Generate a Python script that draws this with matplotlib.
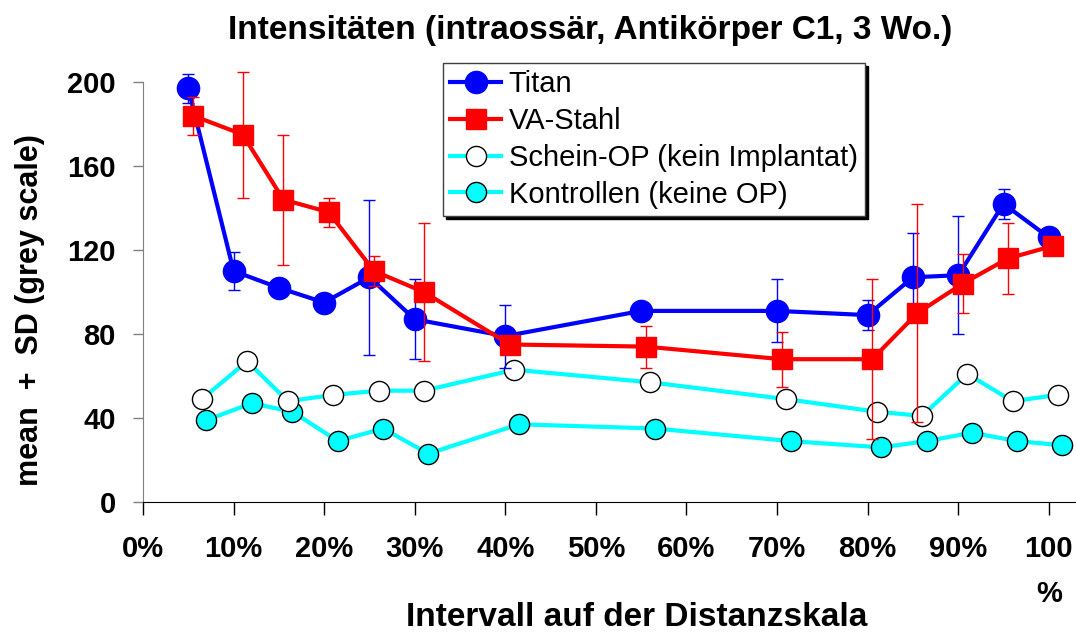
import matplotlib
matplotlib.use('Agg')
import matplotlib.pyplot as plt
from matplotlib import font_manager
from matplotlib.lines import Line2D

# fonts: narrow variant for the tick labels when it exists
names = {f.name for f in font_manager.fontManager.ttflist}
NARROW = 'Liberation Sans Narrow' if 'Liberation Sans Narrow' in names else 'Liberation Sans'
plt.rcParams.update({'font.family': ['Liberation Sans', 'DejaVu Sans']})

BLUE = "#0000FF"; RED = "#FF0000"; CYAN = "#00FFFF"

# interval position (%) and mean grey value per group
titan_x = [5, 10, 15, 20, 25, 30, 40, 55, 70, 80, 85, 90, 95, 100]
titan_y = [197, 110, 102, 95, 107, 87, 79, 91, 91, 89, 107, 108, 142, 126]
titan_sd = [7, 9, 4, 4, 37, 19, 15, 3, 15, 7, 21, 28, 7, 3]

stahl_x = [5.5, 11, 15.5, 20.5, 25.5, 31, 40.5, 55.5, 70.5, 80.5, 85.5, 90.5, 95.5, 100.5]
stahl_y = [184, 175, 144, 138, 110, 100, 75, 74, 68, 68, 90, 104, 116, 122]
stahl_sd = [9, 30, 31, 7, 7, 33, 3, 10, 13, 38, 52, 14, 17, 3]

schein_x = [6.5, 11.5, 16, 21, 26, 31, 41, 56, 71, 81, 86, 91, 96, 101]
schein_y = [49, 67, 48, 51, 53, 53, 63, 57, 49, 43, 41, 61, 48, 51]

kontr_x = [7, 12, 16.5, 21.5, 26.5, 31.5, 41.5, 56.5, 71.5, 81.5, 86.5, 91.5, 96.5, 101.5]
kontr_y = [39, 47, 43, 29, 35, 23, 37, 35, 29, 26, 29, 33, 29, 27]

xticks = [0, 10, 20, 30, 40, 50, 60, 70, 80, 90, 100]
xticklabels = ['0%', '10%', '20%', '30%', '40%', '50%', '60%', '70%', '80%', '90%', '100\n%']
yticks = [0, 40, 80, 120, 160, 200]

fig = plt.figure(figsize=(10.76, 6.33), dpi=100)
ax = fig.add_axes([143/1076, 1-502/633, 1-143/1076, (502-82)/633])

kw = dict(clip_on=False)
ax.plot(kontr_x, kontr_y, '-o', color=CYAN, lw=3, ms=14.5, mfc=CYAN, mec='black', mew=1, zorder=2, **kw)
ax.plot(schein_x, schein_y, '-o', color=CYAN, lw=3, ms=14.5, mfc='white', mec='black', mew=1, zorder=2, **kw)
ax.errorbar(titan_x, titan_y, yerr=titan_sd, fmt='none', ecolor=BLUE, elinewidth=1,
            capsize=4.5, capthick=1, zorder=3, **kw)
ax.plot(titan_x, titan_y, '-o', color=BLUE, lw=3, ms=16, zorder=3, **kw)
ax.errorbar(stahl_x, stahl_y, yerr=stahl_sd, fmt='none', ecolor=RED, elinewidth=1,
            capsize=4.5, capthick=1, zorder=4, **kw)
ax.plot(stahl_x, stahl_y, '-s', color=RED, lw=3, ms=15, zorder=4, **kw)

ax.set_xlim(0, 103)
ax.set_ylim(0, 200)
ax.set_xticks(xticks)
ax.set_xticklabels(xticklabels, fontsize=21, fontweight='bold', family=[NARROW, 'Liberation Sans'],
                   linespacing=1.75, va='top')
ax.set_yticks(yticks)
ax.set_yticklabels([str(v) for v in yticks], fontsize=21, fontweight='bold')
ax.tick_params(axis='x', direction='out', length=9, width=1, pad=15, color='black')
ax.tick_params(axis='y', direction='out', length=7.5, width=1, pad=12, color='#808080')
for s in ('top', 'right'):
    ax.spines[s].set_visible(False)
ax.spines['left'].set_color('#808080')
ax.spines['bottom'].set_color('black')

fig.text(590/1076, 1-31/633, 'Intensitäten (intraossär, Antikörper C1, 3 Wo.)',
         ha='center', va='center', fontsize=24, fontweight='bold')
fig.text(637/1076, 1-618/633, 'Intervall auf der Distanzskala',
         ha='center', va='center', fontsize=24, fontweight='bold')
fig.text(30/1076, 1-310/633, 'mean  +  SD (grey scale)', rotation=90,
         ha='center', va='center', fontsize=22, fontweight='bold')

handles = [
    Line2D([], [], color=BLUE, lw=3, marker='o', ms=16),
    Line2D([], [], color=RED, lw=3, marker='s', ms=15),
    Line2D([], [], color=CYAN, lw=3, marker='o', ms=14.5, mfc='white', mec='black', mew=1),
    Line2D([], [], color=CYAN, lw=3, marker='o', ms=14.5, mfc=CYAN, mec='black', mew=1),
]
labels = ['Titan', 'VA-Stahl', 'Schein-OP (kein Implantat)', 'Kontrollen (keine OP)']
leg = fig.legend(handles, labels, loc='upper left',
                 bbox_to_anchor=(443/1076, 1-63/633), borderaxespad=0, fontsize=21,
                 handlelength=1.75, handletextpad=0.25, labelspacing=0.3, borderpad=0.25,
                 fancybox=False, framealpha=1, edgecolor='#404040',
                 shadow={'color': 'black', 'alpha': 1})
leg.get_frame().set_linewidth(1)

fig.savefig('out.png', dpi=100)
